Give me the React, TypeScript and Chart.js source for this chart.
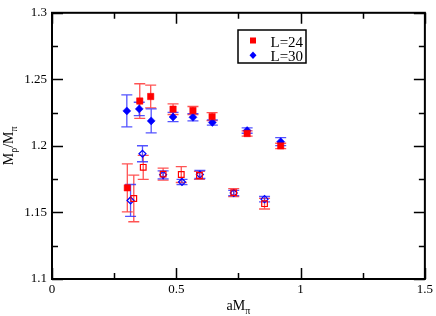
import { useEffect, useRef } from 'react';
import { Chart, registerables } from 'chart.js';

Chart.register(...registerables);

const xTicks = [0, 0.5, 1, 1.5];
const xTickLabels = ['0', '0.5', '1', '1.5'];
const xMinorTicks = [0.25, 0.75, 1.25];
const yTicks = [1.1, 1.15, 1.2, 1.25, 1.3];
const yTickLabels = ['1.1', '1.15', '1.2', '1.25', '1.3'];
const yMinorTicks = [1.125, 1.175, 1.225, 1.275];

// L=24 filled (upper branch)
const x24 = [0.303, 0.353, 0.397, 0.487, 0.567, 0.644, 0.785, 0.92];
const y24 = [1.1685, 1.2337, 1.2371, 1.2276, 1.2266, 1.222, 1.2093, 1.2];
const e24 = [0.018, 0.013, 0.0085, 0.004, 0.003, 0.003, 0.002, 0.002];
// L=30 filled
const x30 = [0.301, 0.351, 0.399, 0.487, 0.567, 0.645, 0.785, 0.92];
const y30 = [1.2263, 1.2278, 1.2188, 1.2217, 1.2215, 1.2176, 1.2115, 1.2032];
const e30 = [0.012, 0.005, 0.009, 0.0035, 0.0027, 0.002, 0.002, 0.003];
// L=24 open (lower branch)
const x24o = [0.329, 0.367, 0.447, 0.52, 0.593, 0.731, 0.855];
const y24o = [1.1605, 1.1839, 1.1788, 1.1785, 1.1778, 1.1649, 1.1566];
const e24o = [0.0175, 0.009, 0.0045, 0.006, 0.003, 0.003, 0.004];
// L=30 open
const x30o = [0.316, 0.364, 0.447, 0.523, 0.595, 0.731, 0.855];
const y30o = [1.159, 1.1941, 1.1783, 1.1729, 1.1785, 1.1646, 1.16];
const e30o = [0.012, 0.006, 0.003, 0.002, 0.003, 0.002, 0.002];

const legendLabels = ['L=24', 'L=30'];

const RED = '#ff0000';
const BLUE = '#0000ff';
const FONT = '"Liberation Serif", "DejaVu Serif", serif';

const pts = (xs: number[], ys: number[]) => xs.map((x, i) => ({ x, y: ys[i] }));

const customPlugin = {
  id: 'custom',
  beforeDatasetsDraw(chart: any) {
    const ctx = chart.ctx;
    const xs = chart.scales.x;
    const ys = chart.scales.y;
    ctx.save();
    chart.data.datasets.forEach((ds: any) => {
      ctx.strokeStyle = ds.errColor;
      ctx.lineWidth = 1.3;
      ds.data.forEach((p: any, j: number) => {
        const e = ds.errors[j];
        const px = xs.getPixelForValue(p.x);
        const y1 = ys.getPixelForValue(p.y + e);
        const y2 = ys.getPixelForValue(p.y - e);
        const cw = 5.5;
        ctx.beginPath();
        ctx.moveTo(px, y1);
        ctx.lineTo(px, y2);
        ctx.moveTo(px - cw, y1);
        ctx.lineTo(px + cw, y1);
        ctx.moveTo(px - cw, y2);
        ctx.lineTo(px + cw, y2);
        ctx.stroke();
      });
    });
    ctx.restore();
  },
  afterDraw(chart: any) {
    const ctx = chart.ctx;
    const { left, right, top, bottom } = chart.chartArea;
    const xs = chart.scales.x;
    const ys = chart.scales.y;
    ctx.save();
    ctx.strokeStyle = '#000';
    ctx.lineWidth = 1.5;
    ctx.beginPath();
    const tick = (major: boolean) => (major ? 11 : 6);
    const xt = (vals: number[], major: boolean) => {
      vals.forEach((v) => {
        const px = Math.round(xs.getPixelForValue(v)) + 0.5;
        ctx.moveTo(px, bottom);
        ctx.lineTo(px, bottom - tick(major));
        ctx.moveTo(px, top);
        ctx.lineTo(px, top + tick(major));
      });
    };
    const yt = (vals: number[], major: boolean) => {
      vals.forEach((v) => {
        const py = Math.round(ys.getPixelForValue(v)) + 0.5;
        ctx.moveTo(left, py);
        ctx.lineTo(left + tick(major), py);
        ctx.moveTo(right, py);
        ctx.lineTo(right - tick(major), py);
      });
    };
    xt(xTicks, true);
    xt(xMinorTicks, false);
    yt(yTicks, true);
    yt(yMinorTicks, false);
    ctx.stroke();
    ctx.lineWidth = 2;
    ctx.strokeRect(left, top, right - left, bottom - top);

    // axis titles
    ctx.fillStyle = '#000';
    ctx.textBaseline = 'alphabetic';
    ctx.textAlign = 'left';
    const big = `14px ${FONT}`;
    const small = `10px ${FONT}`;
    const drawParts = (parts: { t: string; sub: boolean }[], cx: number, base: number) => {
      let total = 0;
      parts.forEach((p) => {
        ctx.font = p.sub ? small : big;
        total += ctx.measureText(p.t).width;
      });
      let x = cx - total / 2;
      parts.forEach((p) => {
        ctx.font = p.sub ? small : big;
        ctx.fillText(p.t, x, p.sub ? base + 4 : base);
        x += ctx.measureText(p.t).width;
      });
    };
    drawParts(
      [
        { t: 'aM', sub: false },
        { t: 'π', sub: true },
      ],
      (left + right) / 2,
      310
    );
    ctx.save();
    ctx.translate(13, (top + bottom) / 2);
    ctx.rotate(-Math.PI / 2);
    drawParts(
      [
        { t: 'M', sub: false },
        { t: 'ρ', sub: true },
        { t: '/M', sub: false },
        { t: 'π', sub: true },
      ],
      0,
      0
    );
    ctx.restore();

    // legend
    const bx = 238, by = 30, bw = 68, bh = 33;
    ctx.fillStyle = '#fff';
    ctx.fillRect(bx, by, bw, bh);
    ctx.lineWidth = 1.5;
    ctx.strokeStyle = '#000';
    ctx.strokeRect(bx, by, bw, bh);
    ctx.fillStyle = RED;
    ctx.fillRect(250, 37.5, 6, 6);
    ctx.fillStyle = BLUE;
    ctx.beginPath();
    ctx.moveTo(253, 51.5);
    ctx.lineTo(256.5, 55.3);
    ctx.lineTo(253, 59);
    ctx.lineTo(249.5, 55.3);
    ctx.closePath();
    ctx.fill();
    ctx.fillStyle = '#000';
    ctx.font = `15px ${FONT}`;
    ctx.fillText(legendLabels[0], 270.5, 46.5);
    ctx.fillText(legendLabels[1], 270.5, 61);
    ctx.restore();
  },
};

export default function App() {
  const ref = useRef<HTMLCanvasElement | null>(null);
  useEffect(() => {
    document.body.style.margin = '0';
    const canvas = ref.current;
    if (!canvas) return;
    const chart = new Chart(canvas, {
      type: 'scatter',
      data: {
        datasets: [
          {
            label: 'L=24 open',
            data: pts(x24o, y24o),
            errors: e24o,
            errColor: 'rgba(255,40,40,0.8)',
            pointStyle: 'rect',
            pointRadius: 4,
            borderColor: RED,
            backgroundColor: 'rgba(0,0,0,0)',
            pointBorderWidth: 1.2,
          },
          {
            label: 'L=30 open',
            data: pts(x30o, y30o),
            errors: e30o,
            errColor: 'rgba(40,40,255,0.8)',
            pointStyle: 'rectRot',
            pointRadius: 3.5,
            borderColor: BLUE,
            backgroundColor: 'rgba(0,0,0,0)',
            pointBorderWidth: 1.2,
          },
          {
            label: legendLabels[0],
            data: pts(x24, y24),
            errors: e24,
            errColor: 'rgba(255,40,40,0.8)',
            pointStyle: 'rect',
            pointRadius: 4.5,
            borderColor: RED,
            backgroundColor: RED,
            pointBorderWidth: 0.5,
          },
          {
            label: legendLabels[1],
            data: pts(x30, y30),
            errors: e30,
            errColor: 'rgba(40,40,255,0.8)',
            pointStyle: 'rectRot',
            pointRadius: 4,
            borderColor: BLUE,
            backgroundColor: BLUE,
            pointBorderWidth: 0.5,
          },
        ] as any,
      },
      options: {
        animation: false,
        responsive: false,
        devicePixelRatio: 1,
        layout: { padding: { left: 0, right: 9, top: 6, bottom: 0 } },
        plugins: { legend: { display: false }, tooltip: { enabled: false } },
        scales: {
          x: {
            type: 'linear',
            min: 0,
            max: 1.5,
            afterBuildTicks: (s: any) => {
              s.ticks = xTicks.map((v) => ({ value: v }));
            },
            afterFit: (s: any) => {
              s.height = 37;
            },
            grid: { display: false, drawTicks: false },
            border: { display: false },
            ticks: {
              padding: 3,
              color: '#000',
              font: { family: FONT, size: 13 },
              maxRotation: 0,
              callback: (_v: any, i: number) => xTickLabels[i],
            },
          },
          y: {
            type: 'linear',
            min: 1.1,
            max: 1.3,
            afterBuildTicks: (s: any) => {
              s.ticks = yTicks.map((v) => ({ value: v }));
            },
            afterFit: (s: any) => {
              s.width = 52;
            },
            grid: { display: false, drawTicks: false },
            border: { display: false },
            ticks: {
              padding: 5,
              color: '#000',
              font: { family: FONT, size: 13 },
              callback: (_v: any, i: number) => yTickLabels[i],
            },
          },
        },
      },
      plugins: [customPlugin],
    });
    return () => chart.destroy();
  }, []);
  return <canvas ref={ref} width={436} height={316} style={{ display: 'block' }} />;
}
